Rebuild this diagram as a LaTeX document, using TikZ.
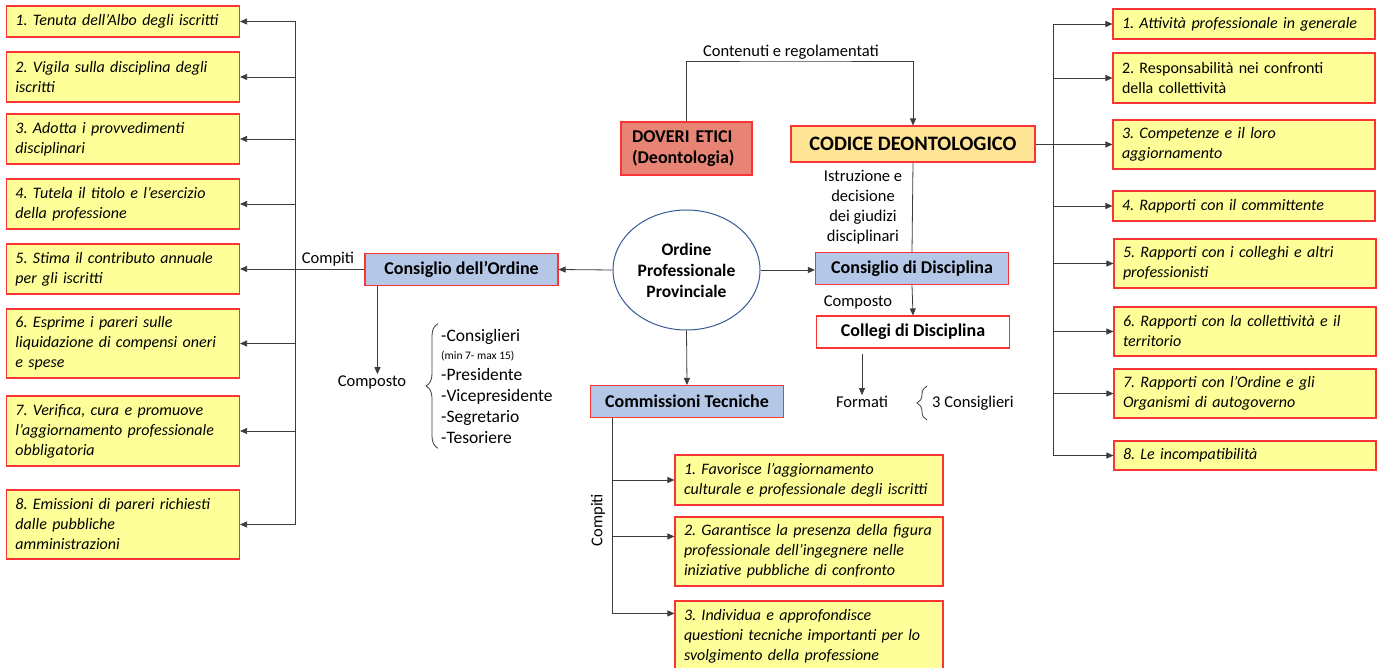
\documentclass[tikz,border=0pt]{standalone}
\usepackage{fontspec}
\setmainfont{Carlito}
\frenchspacing
\usepackage{xcolor}
\definecolor{giallo}{RGB}{255,255,153}
\definecolor{rosso}{RGB}{250,52,52}
\definecolor{azzurro}{RGB}{180,199,231}
\definecolor{salmone}{RGB}{232,132,118}
\definecolor{arancio}{RGB}{255,228,150}
\definecolor{bluline}{RGB}{55,90,150}
\definecolor{grafite}{RGB}{60,60,60}
\usepackage{tikz}
\usetikzlibrary{arrows.meta,positioning,shapes.geometric,decorations.pathreplacing}
\tikzset{
  compito/.style={draw=rosso, fill=giallo, line width=1.1pt,
    font=\itshape\fontsize{16}{20}\selectfont, align=left,
    inner xsep=9pt, inner ysep=0pt},
  compitol/.style={compito, text width=215pt},
  compitor/.style={compito, text width=244pt},
  compitob/.style={compito, text width=250pt},
  organo/.style={draw=rosso, fill=azzurro, line width=1.1pt,
    font=\bfseries\fontsize{18}{22}\selectfont, align=center,
    inner sep=0pt, minimum width=193pt, minimum height=32pt},
  nota/.style={font=\fontsize{16.5}{20}\selectfont, inner sep=1pt, align=center},
  freccia/.style={draw=grafite, line width=0.8pt, -{Triangle[length=7pt,width=6pt]}},
  linea/.style={draw=grafite, line width=0.8pt},
  graffa/.style={draw=grafite, line width=0.8pt, decorate,
    decoration={brace, amplitude=12pt}},
}
\begin{document}
\begin{tikzpicture}[x=1pt,y=-1pt]
\fill[white] (0,0) rectangle (1387,668);
\useasboundingbox (0,0) rectangle (1387,668);

\node[compitol, minimum height=31pt] (L1) at (123,21.5) {1. Tenuta dell’Albo degli iscritti};
\node[compitol, minimum height=50pt] (L2) at (123,77) {2. Vigila sulla disciplina degli\\iscritti};
\node[compitol, minimum height=50pt] (L3) at (123,139) {3. Adotta i provvedimenti\\disciplinari};
\node[compitol, minimum height=50pt] (L4) at (123,204) {4. Tutela il titolo e l’esercizio\\della professione};
\node[compitol, minimum height=50pt] (L5) at (123,269) {5. Stima il contributo annuale\\per gli iscritti};
\node[compitol, minimum height=69pt] (L6) at (123,343.5) {6. Esprime i pareri sulle\\liquidazione di compensi oneri\\e spese};
\node[compitol, minimum height=70pt] (L7) at (123,431) {7. Verifica, cura e promuove\\l’aggiornamento professionale\\obbligatoria};
\node[compitol, minimum height=69pt] (L8) at (123,524.5) {8. Emissioni di pareri richiesti\\dalle pubbliche\\amministrazioni};

\node[compitor, minimum height=30pt] (R1) at (1244,24) {1. Attività professionale in generale};
\node[compitor, minimum height=50pt, font=\upshape\fontsize{16}{20}\selectfont] (R2) at (1244,78) {2. Responsabilità nei confronti\\della collettività};
\node[compitor, minimum height=49pt] (R3) at (1244,144.5) {3. Competenze e il loro\\aggiornamento};
\node[compitor, minimum height=30pt] (R4) at (1244,206) {4. Rapporti con il committente};
\node[compitor, minimum height=49pt] (R5) at (1245,263.5) {5. Rapporti con i colleghi e altri\\professionisti};
\node[compitor, minimum height=49pt] (R6) at (1245,331.5) {6. Rapporti con la collettività e il\\territorio};
\node[compitor, minimum height=49pt] (R7) at (1245,393.5) {7. Rapporti con l’Ordine e gli\\Organismi di autogoverno};
\node[compitor, minimum height=29pt] (R8) at (1245,455.5) {8. Le incompatibilità};

\node[compitob, minimum height=50pt] (B1) at (809,480) {1. Favorisce l’aggiornamento\\culturale e professionale degli iscritti};
\node[compitob, minimum height=69pt] (B2) at (809,551.5) {2. Garantisce la presenza della figura\\professionale dell’ingegnere nelle\\iniziative pubbliche di confronto};
\node[compitob, minimum height=71pt] (B3) at (809,636.5) {3. Individua e approfondisce\\questioni tecniche importanti per lo\\svolgimento della professione};

\node[ellipse, draw=bluline, line width=1pt, fill=white, minimum width=147pt, minimum height=120pt,
      inner sep=0pt, align=center, font=\bfseries\fontsize{17.5}{21}\selectfont] (OPP) at (686.5,270) {Ordine\\Professionale\\Provinciale};
\node[organo] (CO) at (461.5,269.5) {Consiglio dell’Ordine};
\node[organo] (CD) at (912,268.5) {Consiglio di Disciplina};
\node[organo, fill=white] (CG) at (913,332) {Collegi di Disciplina};
\node[organo] (CT) at (687,401.5) {Commissioni Tecniche};
\node[organo, fill=salmone, minimum width=0pt, text width=109pt, inner xsep=11pt, minimum height=53pt,
      align=left, font=\bfseries\fontsize{18}{21}\selectfont] (DE) at (686.5,148.5) {DOVERI ETICI\\(Deontologia)};
\node[organo, fill=arancio, minimum width=244pt, minimum height=36pt,
      font=\bfseries\fontsize{20.5}{24}\selectfont] (CDG) at (913,144) {CODICE DEONTOLOGICO};

\node[nota] (CPT1) at (328,259) {Compiti};
\node[nota, rotate=90] (CPT2) at (598,520) {Compiti};
\node[nota] (CP1) at (372,382) {Composto};
\node[nota] (CP2) at (858,302) {Composto};
\node[nota] (FO) at (862,402) {Formati};
\node[nota, anchor=west] (TC) at (931,403) {3 Consiglieri};
\node[nota] (IST) at (863,207) {Istruzione e\\decisione\\dei giudizi\\disciplinari};
\node[nota, anchor=west, align=left, font=\fontsize{17.5}{21}\selectfont] (LST) at (440,386)
  {-Consiglieri\\[-3pt]{\fontsize{11.5}{12}\selectfont (min 7- max 15)}\\-Presidente\\-Vicepresidente\\-Segretario\\-Tesoriere};

\coordinate (lbus) at (295,269.5);
\coordinate (rbus) at (1053,144);
\coordinate (topbar) at (791,61);
\coordinate (ctb) at ([xshift=22pt]CT.south west);
\node[nota, above=0pt of topbar] (CR) {Contenuti e regolamentati};

\draw[linea] (CO.west) -- (lbus);
\foreach \i in {1,...,8} \draw[freccia] (lbus) |- (L\i.east);
\draw[linea] (CDG.east) -- (rbus);
\foreach \i in {1,...,8} \draw[freccia] (rbus) |- (R\i.west);
\draw[freccia] (ctb) |- (B1.west);
\draw[freccia] (ctb) |- ([yshift=-20pt]B2.north west);
\draw[freccia] (ctb) |- ([yshift=-13pt]B3.north west);

\draw[freccia] (OPP.west) -- (CO.east);
\draw[freccia] (OPP.east) -- (CD.west |- OPP.east);
\draw[freccia] (OPP.south) -- (CT.north);
\draw[freccia] (DE.north) |- (topbar) -| (CDG.north);
\draw[linea] (CDG.south) -- (CD.north);
\draw[freccia] (CD.south) -- (CG.north);
\draw[freccia] ([yshift=-5pt]FO.north |- CG.south) -- (FO.north);
\draw[freccia] ([xshift=13pt]CO.south west) -- ([xshift=13pt]CO.south west |- CP1.north);
\draw[graffa] ([xshift=-2pt,yshift=-4pt]LST.south west) -- ([xshift=-2pt,yshift=4pt]LST.north west);
\draw[graffa, decoration={brace, amplitude=10pt}] ([xshift=-4pt,yshift=-17pt]TC.west) -- ([xshift=-4pt,yshift=17pt]TC.west);
\end{tikzpicture}
\end{document}
